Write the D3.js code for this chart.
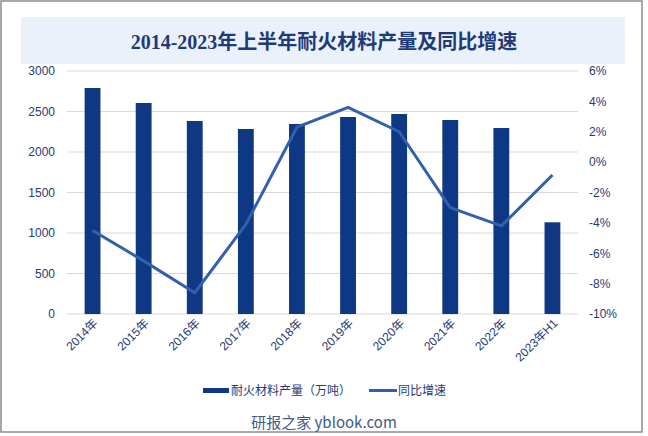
<!DOCTYPE html>
<html>
<head>
<meta charset="utf-8">
<script src="https://cdn.jsdelivr.net/npm/d3@7"></script>
<style>
  body { margin: 0; background: #fff; }
  svg { display: block; }
</style>
</head>
<body>
<svg width="648" height="436"></svg>
<script>
// data
const years = ['2014年', '2015年', '2016年', '2017年', '2018年', '2019年', '2020年', '2021年', '2022年', '2023年H1'];
const output = [2790, 2605, 2383, 2284, 2346, 2432, 2469, 2395, 2296, 1132];
const growth = [-4.5, -6.5, -8.6, -4.1, 2.3, 3.6, 2.0, -3.0, -4.2, -0.85];
const leftTicks = [0, 500, 1000, 1500, 2000, 2500, 3000];
const rightTicks = [-10, -8, -6, -4, -2, 0, 2, 4, 6];

const textBlue = '#1f3a78';
const barColor = '#0f3884';
const lineColor = '#3160ad';
const sans = '"Liberation Sans", Arial, "Noto Sans CJK SC", sans-serif';

const svg = d3.select('svg');

// outer frame
svg.append('rect')
  .attr('x', 1).attr('y', 1).attr('width', 641).attr('height', 431)
  .attr('fill', '#fff').attr('stroke', '#8c8c8c').attr('stroke-width', 1.5);

// title box
svg.append('rect')
  .attr('x', 21).attr('y', 17).attr('width', 604).attr('height', 47)
  .attr('fill', '#eaf1fb');
svg.append('text')
  .attr('x', 324).attr('y', 42)
  .attr('text-anchor', 'middle').attr('dominant-baseline', 'central')
  .attr('font-family', '"Liberation Serif", "Noto Sans CJK SC", serif')
  .attr('font-size', 20).attr('font-weight', 'bold')
  .attr('fill', '#1f3a78')
  .text('2014-2023年上半年耐火材料产量及同比增速');

// plot area
const plotL = 67, plotR = 578, plotT = 71, plotB = 314;

const x = d3.scaleBand()
  .domain(years)
  .range([plotL, plotR])
  .paddingInner(0.69)
  .paddingOuter(0.345);

const yL = d3.scaleLinear().domain([0, 3000]).range([plotB, plotT]);
const yR = d3.scaleLinear().domain([-10, 6]).range([plotB, plotT]);

// gridlines
svg.append('g')
  .selectAll('line')
  .data(leftTicks)
  .join('line')
  .attr('x1', plotL).attr('x2', plotR)
  .attr('y1', d => yL(d)).attr('y2', d => yL(d))
  .attr('stroke', '#d9d9d9').attr('stroke-width', 1);

// left axis
const axL = svg.append('g')
  .attr('transform', `translate(${plotL - 8},0)`)
  .call(d3.axisLeft(yL).tickValues(leftTicks).tickSize(0).tickPadding(4).tickFormat(d3.format('d')));
axL.select('.domain').remove();
axL.selectAll('text').attr('font-family', sans).attr('font-size', 12).attr('fill', textBlue);

// right axis
const axR = svg.append('g')
  .attr('transform', `translate(${plotR + 8},0)`)
  .call(d3.axisRight(yR).tickValues(rightTicks).tickSize(0).tickPadding(3).tickFormat(d => d + '%'));
axR.select('.domain').remove();
axR.selectAll('text').attr('font-family', sans).attr('font-size', 12).attr('fill', textBlue);

// bars
svg.append('g')
  .selectAll('rect')
  .data(output)
  .join('rect')
  .attr('x', (d, i) => x(years[i]))
  .attr('y', d => yL(d))
  .attr('width', x.bandwidth())
  .attr('height', d => plotB - yL(d))
  .attr('fill', barColor);

// line
const line = d3.line()
  .x((d, i) => x(years[i]) + x.bandwidth() / 2)
  .y(d => yR(d));
svg.append('path')
  .datum(growth)
  .attr('d', line)
  .attr('fill', 'none')
  .attr('stroke', lineColor)
  .attr('stroke-width', 3)
  .attr('stroke-linejoin', 'round');

// x labels, rotated
const axB = svg.append('g')
  .attr('transform', `translate(0,${plotB})`)
  .call(d3.axisBottom(x).tickSize(0).tickPadding(0));
axB.select('.domain').remove();
axB.selectAll('text')
  .attr('font-family', sans).attr('font-size', 12).attr('fill', textBlue)
  .attr('text-anchor', 'end')
  .attr('dy', '0')
  .attr('transform', 'translate(6,10) rotate(-45)');

// legend
const lg = svg.append('g');
lg.append('rect').attr('x', 203).attr('y', 388).attr('width', 26).attr('height', 5).attr('fill', barColor);
lg.append('text').attr('x', 231).attr('y', 391).attr('dominant-baseline', 'central')
  .attr('font-family', sans).attr('font-size', 12).attr('fill', textBlue)
  .text('耐火材料产量（万吨）');
lg.append('line').attr('x1', 369).attr('x2', 397).attr('y1', 390.5).attr('y2', 390.5)
  .attr('stroke', lineColor).attr('stroke-width', 3);
lg.append('text').attr('x', 398).attr('y', 391).attr('dominant-baseline', 'central')
  .attr('font-family', sans).attr('font-size', 12).attr('fill', textBlue)
  .text('同比增速');

// source
svg.append('text')
  .attr('x', 324).attr('y', 421).attr('text-anchor', 'middle').attr('dominant-baseline', 'central')
  .attr('font-family', '"Noto Sans CJK SC", "Liberation Sans", sans-serif')
  .attr('font-size', 15).attr('fill', '#3e5a85')
  .text('研报之家 yblook.com');
</script>
</body>
</html>
